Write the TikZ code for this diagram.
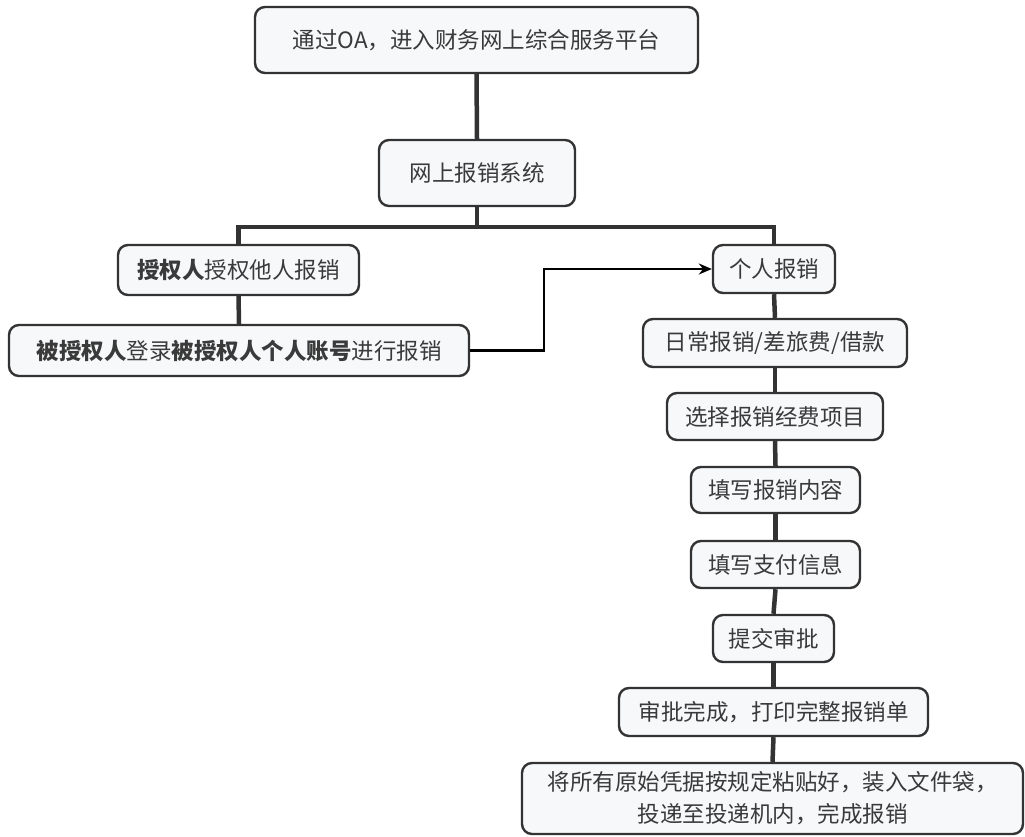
\documentclass[tikz,border=0pt]{standalone}
\usepackage{fontspec}
\setmainfont{Noto Sans CJK SC}
\usetikzlibrary{arrows.meta}
\definecolor{boxfill}{HTML}{F6F8FA}
\definecolor{edge}{HTML}{333333}
\definecolor{txt}{HTML}{3A3A3A}
\tikzset{
  fbox/.style={draw=edge, line width=2.4pt, fill=boxfill, rounded corners=10pt,
    text=txt, align=center, inner sep=0pt, font=\fontsize{22.5}{32}\selectfont},
  trunk/.style={draw=edge, line width=4.5pt},
  link/.style={draw=black, line width=2.2pt, -{Stealth[length=13pt,width=11pt]}}
}
\begin{document}
\begin{tikzpicture}[x=1pt,y=-1pt]
\useasboundingbox (0,0) rectangle (1025,836);
\node[fbox, minimum width=443, minimum height=66] (top) at (476.5,40) {通过OA，进入财务网上综合服务平台};
\node[fbox, minimum width=196, minimum height=66] (sys) at (477,173) {网上报销系统};
\node[fbox, minimum width=241, minimum height=50] (auth) at (238.5,270) {\textbf{授权人}授权他人报销};
\node[fbox, minimum width=460, minimum height=51] (login) at (239,350.5) {\textbf{被授权人}登录\textbf{被授权人个人账号}进行报销};
\node[fbox, minimum width=122, minimum height=48] (pers) at (774,269) {个人报销};
\node[fbox, minimum width=264, minimum height=48] (daily) at (775,343) {日常报销/差旅费/借款};
\node[fbox, minimum width=216, minimum height=47] (choose) at (775,416.5) {选择报销经费项目};
\node[fbox, minimum width=169, minimum height=46] (fill1) at (775.5,490) {填写报销内容};
\node[fbox, minimum width=169, minimum height=47] (fill2) at (775.5,564.5) {填写支付信息};
\node[fbox, minimum width=121, minimum height=47] (submit) at (773.5,638.5) {提交审批};
\node[fbox, minimum width=309, minimum height=48] (done) at (773.5,712) {审批完成，打印完整报销单};
\node[fbox, minimum width=501, minimum height=71] (last) at (772.5,798.5) {将所有原始凭据按规定粘贴好，装入文件袋，\\投递至投递机内，完成报销};
\coordinate (j) at (477,227);
\coordinate (jl) at (238.5,227);
\coordinate (jr) at (774,227);
\draw[trunk] (top.south) -- (sys.north);
\draw[trunk] (sys.south) -- (j);
\draw[trunk] (auth.north) -- (jl) -- (jr) -- (pers.north);
\draw[trunk] (auth.south) -- (login.north);
\draw[trunk] (pers.south) -- (daily.north);
\draw[trunk] (daily.south) -- (choose.north);
\draw[trunk] (choose.south) -- (fill1.north);
\draw[trunk] (fill1.south) -- (fill2.north);
\draw[trunk] (fill2.south) -- (submit.north);
\draw[trunk] (submit.south) -- (done.north);
\draw[trunk] (done.south) -- (last.north);
\coordinate (bend) at (544,0);
\draw[link] (login.east) -- (bend |- login.east) -- (bend |- pers.west) -- (pers.west);
\end{tikzpicture}
\end{document}
